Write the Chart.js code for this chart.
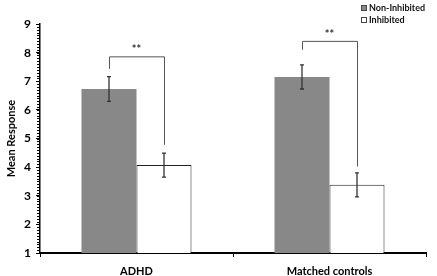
<!DOCTYPE html>
<html>
<head>
<meta charset="utf-8">
<script src="https://cdn.jsdelivr.net/npm/chart.js@4/dist/chart.umd.min.js"></script>
<style>
  html, body { margin: 0; padding: 0; background: #fff; }
  #wrap { position: relative; width: 437px; height: 276px; }
</style>
</head>
<body>
<div id="wrap"><canvas id="chart" width="437" height="276"></canvas></div>
<script>
// data
const groups = ['ADHD', 'Matched controls'];
const nonInhibited = [6.73, 7.15];
const inhibited = [4.07, 3.38];
const nonInhibitedErr = [0.43, 0.42];
const inhibitedErr = [0.42, 0.42];
// significance brackets (in response units)
const bracketTop = [7.87, 8.41];
const bracketLeftEnd = [7.43, 8.1];
const bracketRightEnd = [4.78, 4.02];
const bracketLabel = ['**', '**'];

const FONT = 'Lato, "Open Sans", sans-serif';

const extras = {
    id: 'extras',
    afterDatasetsDraw(chart) {
        const ctx = chart.ctx;
        const y = chart.scales.y;
        const errs = [nonInhibitedErr, inhibitedErr];
        const metas = [chart.getDatasetMeta(0), chart.getDatasetMeta(1)];

        // error bars
        ctx.save();
        ctx.strokeStyle = '#333';
        ctx.lineWidth = 1.3;
        metas.forEach((meta, d) => {
            const vals = chart.data.datasets[d].data;
            meta.data.forEach((bar, i) => {
                const top = y.getPixelForValue(vals[i] + errs[d][i]);
                const bot = y.getPixelForValue(vals[i] - errs[d][i]);
                ctx.beginPath();
                ctx.moveTo(bar.x, top);
                ctx.lineTo(bar.x, bot);
                ctx.moveTo(bar.x - 2, top);
                ctx.lineTo(bar.x + 2, top);
                ctx.moveTo(bar.x - 2, bot);
                ctx.lineTo(bar.x + 2, bot);
                ctx.stroke();
            });
        });

        // brackets
        ctx.strokeStyle = '#555';
        ctx.lineWidth = 1;
        ctx.fillStyle = '#333';
        ctx.font = 'bold 11px ' + FONT;
        ctx.textAlign = 'center';
        ctx.textBaseline = 'bottom';
        groups.forEach((g, i) => {
            const xl = metas[0].data[i].x;
            const xr = metas[1].data[i].x;
            const yt = y.getPixelForValue(bracketTop[i]);
            ctx.beginPath();
            ctx.moveTo(xl + 0.5, y.getPixelForValue(bracketLeftEnd[i]));
            ctx.lineTo(xl + 0.5, yt + 0.5);
            ctx.lineTo(xr + 0.5, yt + 0.5);
            ctx.lineTo(xr + 0.5, y.getPixelForValue(bracketRightEnd[i]));
            ctx.stroke();
            ctx.fillText(bracketLabel[i], (xl + xr) / 2, yt - 1);
        });

        // minor ticks on y axis
        ctx.strokeStyle = '#000';
        ctx.lineWidth = 1;
        for (let v = y.min; v <= y.max + 1e-6; v += 0.1) {
            const py = Math.round(y.getPixelForValue(v)) + 0.5;
            ctx.beginPath();
            ctx.moveTo(chart.chartArea.left - 3, py);
            ctx.lineTo(chart.chartArea.left, py);
            ctx.stroke();
        }

        // legend
        ctx.font = 'bold 9px ' + FONT;
        ctx.textAlign = 'left';
        ctx.textBaseline = 'middle';
        chart.data.datasets.forEach((ds, d) => {
            const ly = 8 + d * 12;
            ctx.fillStyle = ds.backgroundColor;
            ctx.fillRect(361, ly - 3, 6, 6);
            ctx.strokeStyle = '#444';
            ctx.strokeRect(361.5, ly - 2.5, 5, 5);
            ctx.fillStyle = '#111';
            ctx.fillText(ds.label, 369, ly);
        });
        ctx.restore();
    }
};

new Chart(document.getElementById('chart'), {
    type: 'bar',
    data: {
        labels: groups,
        datasets: [{
            label: 'Non-Inhibited',
            data: nonInhibited,
            backgroundColor: '#888888',
            borderColor: '#7d7d7d',
            borderWidth: 0
        }, {
            label: 'Inhibited',
            data: inhibited,
            backgroundColor: '#ffffff',
            borderColor: '#222',
            borderWidth: 1,
            borderSkipped: 'bottom'
        }]
    },
    options: {
        responsive: false,
        animation: false,
        events: [],
        layout: { padding: { top: 24, right: 11, left: 0, bottom: 0 } },
        datasets: { bar: { categoryPercentage: 0.57, barPercentage: 1.0 } },
        plugins: { legend: { display: false }, tooltip: { enabled: false } },
        scales: {
            x: {
                grid: { offset: true, drawOnChartArea: false, drawTicks: true, tickLength: 4, color: '#000' },
                border: { color: '#000', width: 2 },
                ticks: { color: '#000', padding: 8, font: { family: FONT, size: 11, weight: 'bold' } },
                afterFit(scale) { scale.height = 23; }
            },
            y: {
                min: 1,
                max: 9,
                ticks: { stepSize: 1, color: '#000', padding: 5, font: { family: FONT, size: 12, weight: 'bold' } },
                grid: { drawOnChartArea: false, drawTicks: true, tickLength: 4, color: '#000' },
                border: { color: '#000', width: 1.5 },
                title: {
                    display: true,
                    text: 'Mean Response',
                    color: '#000',
                    padding: { top: 5, bottom: 0 },
                    font: { family: FONT, size: 11, weight: 'bold' }
                },
                afterFit(scale) { scale.width = 40; }
            }
        }
    },
    plugins: [extras]
});
</script>
</body>
</html>
